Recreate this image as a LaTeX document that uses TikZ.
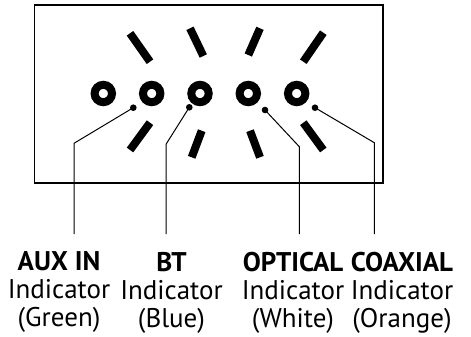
\documentclass[tikz,border=0pt]{standalone}
\usepackage{fontspec}
\setmainfont{PT Sans}
\usepackage{tikz}

\begin{document}
\begin{tikzpicture}[x=1pt, y=-1pt,
        ring/.style={circle, draw, line width=8pt, minimum size=17.4pt, inner sep=0pt},
        ledpin/.style={circle, fill, minimum size=6.6pt, inner sep=0pt},
        glow/.style={line width=8pt},
        leader/.style={line width=1pt},
        label/.style={anchor=north, inner sep=0pt, align=center,
            font=\fontsize{27}{28}\selectfont}]
        \useasboundingbox (0, 0) rectangle (471, 337);
        \draw [line width=1.5pt] (34.7, 5) rectangle (383, 183);
        % rings
        \node [ring] (r1) at (103.3, 93.5) {};
        \node [ring] (r2) at (151.7, 93.5) {};
        \node [ring] (r3) at (200.0, 93.5) {};
        \node [ring] (r4) at (248.3, 93.5) {};
        \node [ring] (r5) at (296.7, 93.5) {};
        % light bars
        \draw [glow] (130, 33.3) -- (150, 61.7);
        \draw [glow] (190, 28.3) -- (203.3, 56);
        \draw [glow] (260, 28.3) -- (248.3, 55);
        \draw [glow] (323.3, 32.7) -- (303.3, 61.7);
        \draw [glow] (150, 122.7) -- (130, 150);
        \draw [glow] (201.7, 130.7) -- (191.7, 157.3);
        \draw [glow] (250, 130.7) -- (260, 157.3);
        \draw [glow] (303.3, 122.7) -- (323.3, 150);
        % indicators
        \node [ledpin] (aux) at (133.3, 107.7) {};
        \node [ledpin] (bt) at (189.3, 107.3) {};
        \node [ledpin] (opt) at (265.0, 110.0) {};
        \node [ledpin] (coax) at (315.0, 107.7) {};
        \coordinate (auxk) at (74.0, 143.3);
        \coordinate (btk) at (166.0, 144.3);
        \coordinate (optk) at (299.3, 146.7);
        \coordinate (coaxk) at (374.3, 142.7);
        \coordinate (auxe) at (74.0, 234);
        \coordinate (bte) at (166.0, 234);
        \coordinate (opte) at (299.3, 234);
        \coordinate (coaxe) at (374.3, 234);
        \node [label] (auxl) at (59.0, 251.7) {\textbf{AUX IN}\\Indicator\\(Green)};
        \node [label] (btl) at (171.5, 251.7) {\textbf{BT}\\Indicator\\(Blue)};
        \node [label] (optl) at (293.0, 251.7) {\textbf{OPTICAL}\\Indicator\\(White)};
        \node [label] (coaxl) at (402.0, 251.7) {\textbf{COAXIAL}\\Indicator\\(Orange)};
        \draw [leader] (aux.center) -- (auxk) -- (auxe);
        \draw [leader] (bt.center) -- (btk) -- (bte);
        \draw [leader] (opt.center) -- (optk) -- (opte);
        \draw [leader] (coax.center) -- (coaxk) -- (coaxe);
    \end{tikzpicture}
\end{document}
